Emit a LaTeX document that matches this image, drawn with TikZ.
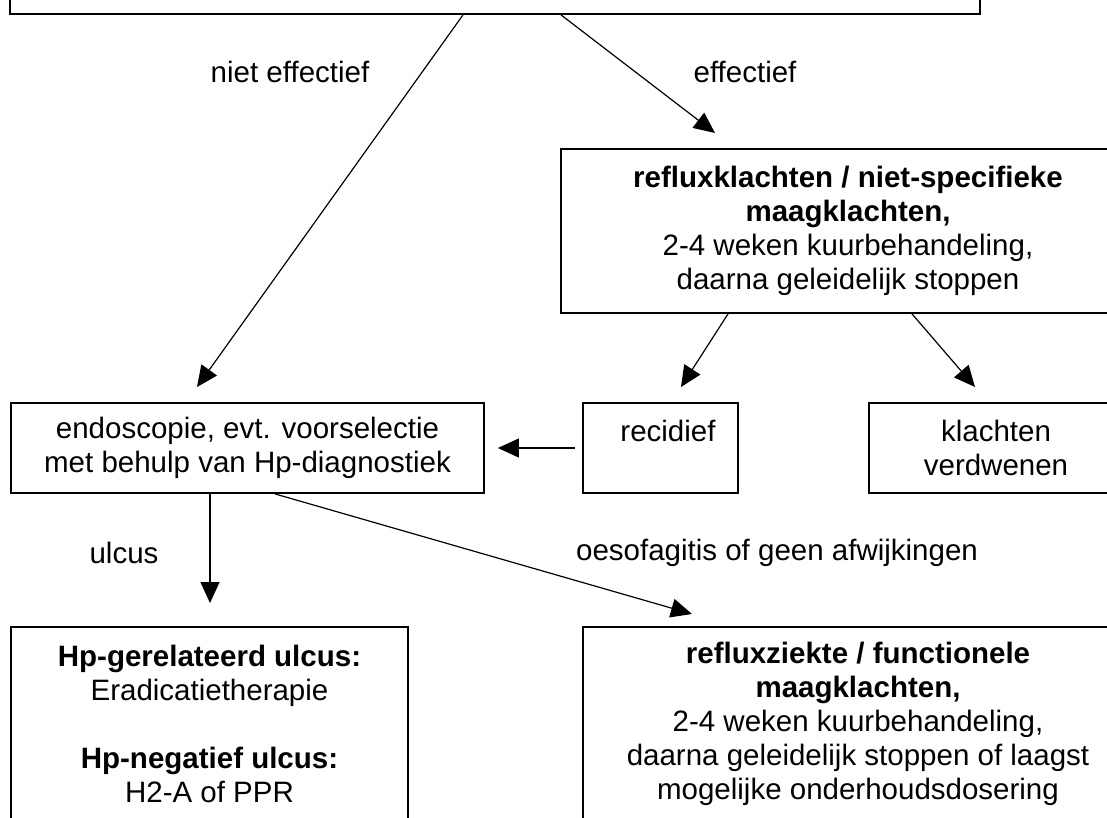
\documentclass[tikz,border=0pt]{standalone}
\usepackage{fontspec}
\setmainfont{Liberation Sans}
\usetikzlibrary{arrows.meta, positioning}

\begin{document}
\begin{tikzpicture}[x=1pt, y=-1pt,
box/.style={draw, line width=1.8pt, align=center, inner sep=0pt, font=\fontsize{29.5}{34}\selectfont},
arr/.style={-{Triangle[length=21pt, width=19pt]}, line width=1.2pt},
lbl/.style={font=\fontsize{29.5}{34}\selectfont}
]
\useasboundingbox (0,0) rectangle (1107,817);
\clip (0,0) rectangle (1107,817);
% boxes
\node[box, minimum width=970pt, minimum height=120pt] (start) at (495,-46) {};
\node[box, minimum width=574pt, minimum height=164pt] (refl) at (848,231)
  {\textbf{refluxklachten / niet-specifieke}\\\textbf{maagklachten,}\\2-4 weken kuurbehandeling,\\daarna geleidelijk stoppen};
\node[box, minimum width=473pt, minimum height=90pt] (endo) at (247.5,448)
  {endoscopie, evt. voorselectie\\met behulp van Hp-diagnostiek};
\node[box, minimum width=155pt, minimum height=90pt] (recid) at (660.5,448) {\hspace*{15pt}recidief\\\mbox{}};
\node[box, minimum width=254pt, minimum height=90pt] (klacht) at (996,448) {klachten\\verdwenen};
\node[box, minimum width=397pt, minimum height=193pt] (ulc) at (209.5,723.5)
  {\textbf{Hp-gerelateerd ulcus:}\\Eradicatietherapie\\[34pt]\textbf{Hp-negatief ulcus:}\\H2-A of PPR};
\node[box, minimum width=550pt, minimum height=193pt] (ziekte) at (858,723.5)
  {\textbf{refluxziekte / functionele}\\\textbf{maagklachten,}\\2-4 weken kuurbehandeling,\\daarna geleidelijk stoppen of laagst\\mogelijke onderhoudsdosering};
% labels
\node[lbl] (nieteff) at (290,72) {niet effectief};
\node[lbl] (eff) at (745,72) {effectief};
\node[lbl] (ulcus) at (124,553) {ulcus};
\node[lbl] (oesof) at (777,553) {oesofagitis of geen afwijkingen};
% arrow ends
\coordinate (endoIn) at (197,387);
\coordinate (reflIn) at (715,133);
\coordinate (recidIn) at (681,387);
\coordinate (klachtIn) at (975,387);
\coordinate (ulcIn) at (210,603);
\coordinate (ziekteIn) at (692,614);
% connectors
\draw[arr] ([xshift=-32pt]start.south) -- (endoIn);
\draw[arr] ([xshift=66pt]start.south) -- (reflIn);
\draw[arr] ([xshift=-120pt]refl.south) -- (recidIn);
\draw[arr] ([xshift=64pt]refl.south) -- (klachtIn);
\draw[arr, shorten <=7pt, shorten >=13pt] (recid.west) -- (endo.east);
\draw[arr] ([xshift=-37.5pt]endo.south) -- (ulcIn);
\draw[arr] ([xshift=27.5pt]endo.south) -- (ziekteIn);
\end{tikzpicture}
\end{document}
